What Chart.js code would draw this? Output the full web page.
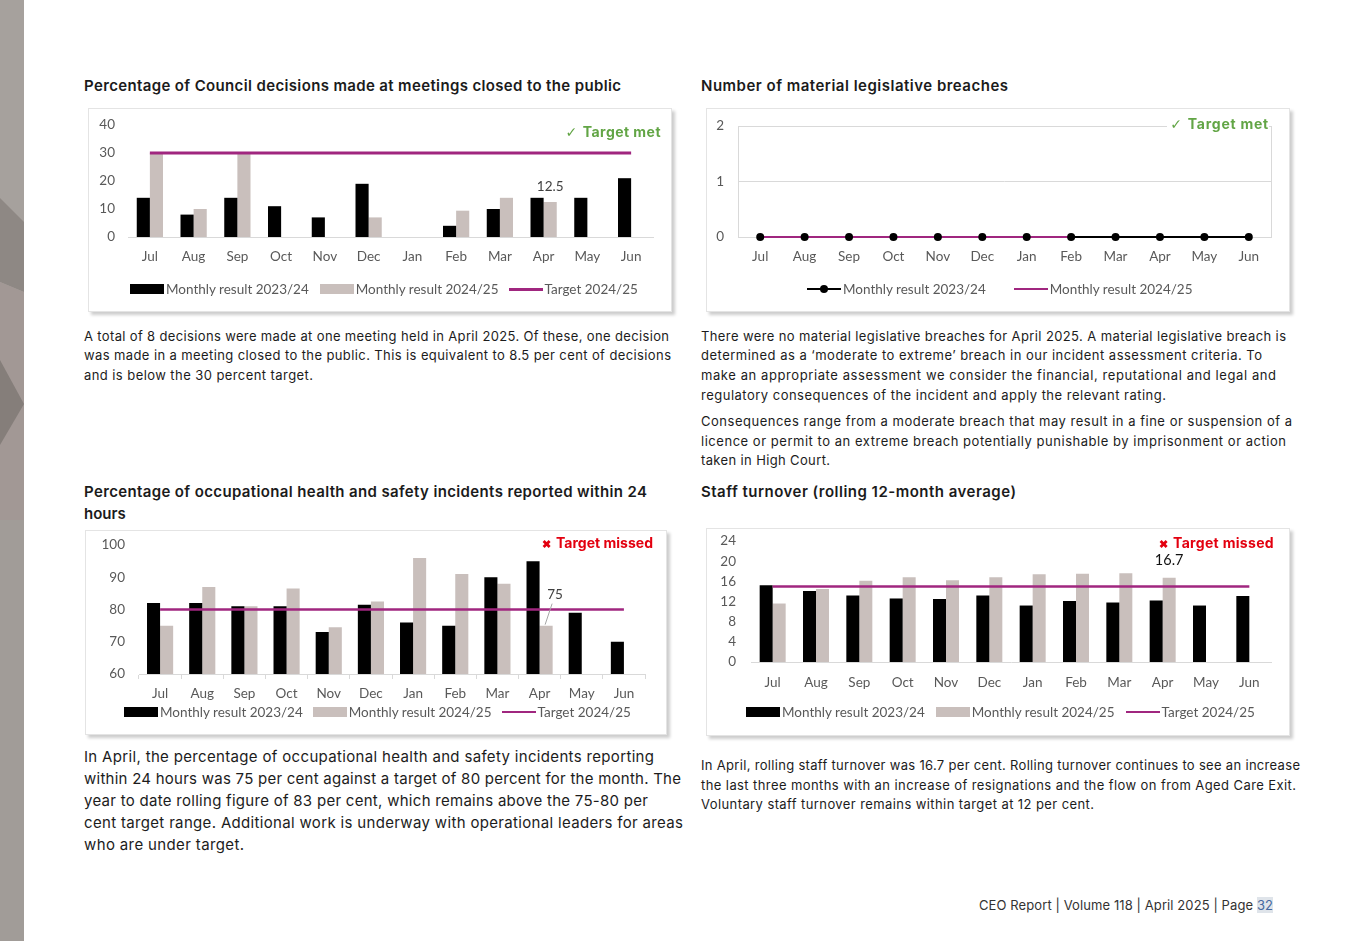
<!DOCTYPE html>
<html>
<head>
<meta charset="utf-8">
<title>CEO Report - Page 32</title>
<script src="https://cdn.jsdelivr.net/npm/chart.js@4.4.1/dist/chart.umd.min.js"></script>
<style>
  body { margin: 0; width: 1347px; height: 941px; position: relative; overflow: hidden; background: #fff; font-family: Inter, "Noto Sans", sans-serif; color: #1c1c1c; }
  .t { position: absolute; white-space: nowrap; }
  .title { font-weight: 600; font-size: 15px; line-height: 20px; color: #1b1b1b; }
  .body13 { font-size: 13px; line-height: 20px; }
  .body15 { font-size: 15px; line-height: 22px; }
  .box { position: absolute; background: #fff; border: 1px solid #e4e4e4; box-sizing: border-box; box-shadow: 3px 3px 3px rgba(0,0,0,0.2); }
  .cw { position: absolute; }
  .legend { position: absolute; display: flex; align-items: center; font-family: Lato, "Liberation Sans", sans-serif; font-size: 13.5px; color: #595959; height: 18px; white-space: nowrap; }
  .legend .item { display: flex; align-items: center; }
  .mk { display: inline-block; width: 34px; margin-right: 2px; position: relative; }
  .mk.bar { height: 10px; }
  .mk.line { height: 3px; }
  .mk.dotline { height: 2px; background: #000; }
  .mk.dotline::after { content: ""; position: absolute; left: 13px; top: -3px; width: 8px; height: 8px; border-radius: 50%; background: #000; }
  .note { position: absolute; white-space: nowrap; font-weight: 700; font-size: 14px; line-height: 16px; background: #fff; padding-left: 3px; }
  .met { color: #62a545; }
  .missed { color: #e3000f; }
  .missed .x { font-size: 11px; margin-right: 5px; }
  .met .x { margin-right: 5px; font-family: "DejaVu Sans", sans-serif; font-weight: 700; font-size: 14px; }
  .page32 { color: #4569a0; background: #dfe4ea; }
</style>
</head>
<body>

<!-- left decorative strip -->
<svg class="t" style="left:0;top:0" width="24" height="941">
  <rect x="0" y="0" width="24" height="941" fill="#a6a19d"/>
  <polygon points="0,198 24,222 24,292 0,282" fill="#8e8884"/>
  <polygon points="0,282 24,292 24,520 0,520" fill="#a29895"/>
  <polygon points="0,360 24,404 0,445" fill="#857e7a"/>
  <polygon points="0,520 24,520 24,941 0,941" fill="#a19c98"/>
</svg>

<!-- titles -->
<div class="t title" data-w="537" style="left:84px;top:76px">Percentage of Council decisions made at meetings closed to the public</div>
<div class="t title" data-w="307" style="left:701px;top:76px">Number of material legislative breaches</div>
<div class="t title" data-w="563" style="left:84px;top:482px">Percentage of occupational health and safety incidents reported within 24</div>
<div class="t title" style="left:84px;top:504px">hours</div>
<div class="t title" data-w="315" style="left:701px;top:482px">Staff turnover (rolling 12-month average)</div>

<!-- chart boxes -->
<div class="box" style="left:88px;top:108px;width:584px;height:204px"></div>
<div class="box" style="left:706px;top:108px;width:584px;height:204px"></div>
<div class="box" style="left:85px;top:530px;width:582px;height:205px"></div>
<div class="box" style="left:706px;top:528px;width:584px;height:208px"></div>

<div class="cw" style="left:88px;top:108px;width:584px;height:204px"><canvas id="decisionsChart"></canvas></div>
<div class="cw" style="left:706px;top:108px;width:584px;height:204px"><canvas id="breachesChart"></canvas></div>
<div class="cw" style="left:85px;top:530px;width:582px;height:205px"><canvas id="ohsChart"></canvas></div>
<div class="cw" style="left:706px;top:528px;width:584px;height:208px"><canvas id="turnoverChart"></canvas></div>

<!-- target notes -->
<div class="note met" data-w="98" style="right:686px;top:124px"><span class="x">✓</span>Target met</div>
<div class="note met" data-w="101" style="right:78px;top:116px"><span class="x">✓</span>Target met</div>
<div class="note missed" data-w="114" style="right:694px;top:535px"><span class="x">✖</span>Target missed</div>
<div class="note missed" data-w="118" style="right:73px;top:535px"><span class="x">✖</span>Target missed</div>

<!-- legends -->
<div class="legend" style="left:130px;top:280px">
  <span class="item"><span class="mk bar" style="background:#000"></span>Monthly result 2023/24</span>
  <span class="item" style="margin-left:11px"><span class="mk bar" style="background:#c9bfbc"></span>Monthly result 2024/25</span>
  <span class="item" style="margin-left:10px"><span class="mk line" style="background:#a0267f"></span>Target 2024/25</span>
</div>
<div class="legend" style="left:807px;top:280px">
  <span class="item"><span class="mk dotline"></span>Monthly result 2023/24</span>
  <span class="item" style="margin-left:28px"><span class="mk line" style="background:#a0267f;height:2px"></span>Monthly result 2024/25</span>
</div>
<div class="legend" style="left:124px;top:703px">
  <span class="item"><span class="mk bar" style="background:#000"></span>Monthly result 2023/24</span>
  <span class="item" style="margin-left:10px"><span class="mk bar" style="background:#c9bfbc"></span>Monthly result 2024/25</span>
  <span class="item" style="margin-left:10px"><span class="mk line" style="background:#a0267f;height:2px"></span>Target 2024/25</span>
</div>
<div class="legend" style="left:746px;top:703px">
  <span class="item"><span class="mk bar" style="background:#000"></span>Monthly result 2023/24</span>
  <span class="item" style="margin-left:11px"><span class="mk bar" style="background:#c9bfbc"></span>Monthly result 2024/25</span>
  <span class="item" style="margin-left:11px"><span class="mk line" style="background:#a0267f;height:2px"></span>Target 2024/25</span>
</div>

<!-- body text -->
<div class="t body13" data-w="585" style="left:84px;top:326px">A total of 8 decisions were made at one meeting held in April 2025. Of these, one decision</div>
<div class="t body13" data-w="587" style="left:84px;top:345px">was made in a meeting closed to the public. This is equivalent to 8.5 per cent of decisions</div>
<div class="t body13" data-w="229" style="left:84px;top:365px">and is below the 30 percent target.</div>

<div class="t body13" data-w="585" style="left:701px;top:326px">There were no material legislative breaches for April 2025. A material legislative breach is</div>
<div class="t body13" data-w="561" style="left:701px;top:345px">determined as a ‘moderate to extreme’ breach in our incident assessment criteria. To</div>
<div class="t body13" data-w="575" style="left:701px;top:365px">make an appropriate assessment we consider the financial, reputational and legal and</div>
<div class="t body13" data-w="465" style="left:701px;top:385px">regulatory consequences of the incident and apply the relevant rating.</div>
<div class="t body13" data-w="591" style="left:701px;top:411px">Consequences range from a moderate breach that may result in a fine or suspension of a</div>
<div class="t body13" data-w="585" style="left:701px;top:431px">licence or permit to an extreme breach potentially punishable by imprisonment or action</div>
<div class="t body13" data-w="129" style="left:701px;top:450px">taken in High Court.</div>

<div class="t body15" data-w="570" style="left:84px;top:746px">In April, the percentage of occupational health and safety incidents reporting</div>
<div class="t body15" data-w="597" style="left:84px;top:768px">within 24 hours was 75 per cent against a target of 80 percent for the month. The</div>
<div class="t body15" data-w="564" style="left:84px;top:790px">year to date rolling figure of 83 per cent, which remains above the 75-80 per</div>
<div class="t body15" data-w="599" style="left:84px;top:812px">cent target range. Additional work is underway with operational leaders for areas</div>
<div class="t body15" data-w="160" style="left:84px;top:834px">who are under target.</div>

<div class="t body13" data-w="599" style="left:701px;top:755px">In April, rolling staff turnover was 16.7 per cent. Rolling turnover continues to see an increase</div>
<div class="t body13" data-w="595" style="left:701px;top:775px">the last three months with an increase of resignations and the flow on from Aged Care Exit.</div>
<div class="t body13" data-w="393" style="left:701px;top:794px">Voluntary staff turnover remains within target at 12 per cent.</div>

<div class="t body13" data-w="294" style="left:979px;top:895px;color:#333">CEO Report | Volume 118 | April 2025 | Page <span class="page32">32</span></div>

<script>
// Month categories (financial year)
const months = ['Jul', 'Aug', 'Sep', 'Oct', 'Nov', 'Dec', 'Jan', 'Feb', 'Mar', 'Apr', 'May', 'Jun'];

// Council decisions made at closed meetings (%)
const decisions2324 = [14, 8, 14, 11, 7, 19, 0, 4, 10, 14, 14, 21];
const decisions2425 = [30, 10, 30, null, null, 7, null, 9.4, 14, 12.5, null, null];
const decisionsTarget = [30, 30, 30, 30, 30, 30, 30, 30, 30, 30, 30, 30];
const decisionsTicks = [0, 10, 20, 30, 40];

// Material legislative breaches
const breaches2324 = [0, 0, 0, 0, 0, 0, 0, 0, 0, 0, 0, 0];
const breaches2425 = [0, 0, 0, 0, 0, 0, 0, 0, null, null, null, null];
const breachesTicks = [0, 1, 2];

// OHS incidents reported within 24 hours (%)
const ohs2324 = [82, 82, 81, 81, 73, 81.5, 76, 75, 90, 95, 79, 70];
const ohs2425 = [75, 87, 81, 86.5, 74.5, 82.5, 96, 91, 88, 75, null, null];
const ohsTarget = [80, 80, 80, 80, 80, 80, 80, 80, 80, 80, 80, 80];
const ohsTicks = [60, 70, 80, 90, 100];

// Staff turnover, rolling 12-month average (%)
const turnover2324 = [15.2, 14.1, 13.2, 12.6, 12.5, 13.2, 11.2, 12.1, 11.8, 12.2, 11.2, 13.1];
const turnover2425 = [11.6, 14.5, 16.1, 16.8, 16.2, 16.8, 17.4, 17.5, 17.6, 16.7, null, null];
const turnoverTarget = [15, 15, 15, 15, 15, 15, 15, 15, 15, 15, 15, 15];
const turnoverTicks = [0, 4, 8, 12, 16, 20, 24];

const BLACK = '#000000';
const TAUPE = '#c9bfbc';
const MAGENTA = '#a0267f';
const AXIS_GREY = '#d9d9d9';
const TICK_TEXT = '#595959';
const TICK_FONT = { family: 'Lato, "Liberation Sans", sans-serif', size: 13.5 };

// Draws a single value label (with optional leader line) above one bar
const valueLabelPlugin = {
    id: 'valueLabel',
    afterDatasetsDraw(chart, args, opts) {
        if (!opts || opts.dataset === undefined) return;
        const el = chart.getDatasetMeta(opts.dataset).data[opts.index];
        const value = chart.data.datasets[opts.dataset].data[opts.index];
        if (!el) return;
        const ctx = chart.ctx;
        const x = el.x + (opts.dx || 0);
        const y = el.y - opts.dy;
        ctx.save();
        ctx.font = opts.font;
        ctx.fillStyle = opts.color;
        ctx.textAlign = 'center';
        ctx.textBaseline = 'middle';
        ctx.fillText(String(value), x, y);
        if (opts.leader) {
            ctx.strokeStyle = '#a6a6a6';
            ctx.lineWidth = 1;
            ctx.beginPath();
            ctx.moveTo(x - 3, y + 9);
            ctx.lineTo(el.x - 1, el.y - 1);
            ctx.stroke();
        }
        ctx.restore();
    }
};

// Light border around the plot area (breaches chart)
const plotBorderPlugin = {
    id: 'plotBorder',
    beforeDatasetsDraw(chart) {
        const a = chart.chartArea;
        const ctx = chart.ctx;
        ctx.save();
        ctx.strokeStyle = AXIS_GREY;
        ctx.lineWidth = 1;
        ctx.strokeRect(Math.round(a.left) + 0.5, Math.round(a.top) + 0.5, Math.round(a.width), Math.round(a.height));
        ctx.restore();
    }
};

function fixedTicks(list) {
    return scale => {
        scale.ticks = list.map(v => ({ value: v }));
    };
}

// y axis: fixed width, no extra label padding so layout.padding.top sets the plot top
function fixY(width) {
    return scale => {
        scale.width = width;
        scale.paddingTop = 0;
        scale.paddingBottom = 0;
    };
}

function barChart(canvasId, cfg) {
    const ctx = document.getElementById(canvasId).getContext('2d');
    return new Chart(ctx, {
        type: 'bar',
        data: {
            labels: months,
            datasets: [
                {
                    label: 'Monthly result 2023/24',
                    data: cfg.prior,
                    backgroundColor: BLACK,
                    categoryPercentage: cfg.catPct,
                    barPercentage: 1.0,
                    order: 1
                },
                {
                    label: 'Monthly result 2024/25',
                    data: cfg.current,
                    backgroundColor: TAUPE,
                    categoryPercentage: cfg.catPct,
                    barPercentage: 1.0,
                    order: 1
                },
                {
                    label: 'Target 2024/25',
                    type: 'line',
                    data: cfg.target,
                    borderColor: MAGENTA,
                    borderWidth: cfg.targetWidth,
                    pointRadius: 0,
                    fill: false,
                    clip: false,
                    order: 0
                }
            ]
        },
        options: {
            responsive: true,
            maintainAspectRatio: false,
            animation: false,
            layout: { autoPadding: false, padding: { left: 0, right: cfg.padRight, top: cfg.padTop, bottom: 0 } },
            scales: {
                x: {
                    grid: {
                        display: cfg.tickMarks,
                        drawOnChartArea: false,
                        drawTicks: cfg.tickMarks,
                        tickLength: 5,
                        color: AXIS_GREY
                    },
                    border: { display: true, color: AXIS_GREY, width: 1 },
                    ticks: { color: TICK_TEXT, font: TICK_FONT, padding: cfg.xPad, maxRotation: 0 },
                    afterFit: scale => { scale.height = cfg.xHeight; }
                },
                y: {
                    min: cfg.ticks[0],
                    max: cfg.ticks[cfg.ticks.length - 1],
                    grid: { display: false, drawTicks: false },
                    border: { display: false },
                    ticks: { color: TICK_TEXT, font: TICK_FONT, padding: cfg.yPad, autoSkip: false },
                    afterBuildTicks: fixedTicks(cfg.ticks),
                    afterFit: fixY(cfg.yWidth)
                }
            },
            plugins: {
                legend: { display: false },
                tooltip: { enabled: false },
                valueLabel: cfg.valueLabel
            }
        },
        plugins: [valueLabelPlugin]
    });
}

document.addEventListener('DOMContentLoaded', () => {
    // Stretch text lines to the measured widths of the source page
    document.querySelectorAll('[data-w]').forEach(el => {
        const target = parseFloat(el.dataset.w);
        const natural = el.getBoundingClientRect().width;
        const n = el.textContent.trim().length - 1;
        if (n > 0) el.style.letterSpacing = ((target - natural) / n) + 'px';
    });

    barChart('decisionsChart', {
        prior: decisions2324,
        current: decisions2425,
        target: decisionsTarget,
        ticks: decisionsTicks,
        catPct: 0.6,
        targetWidth: 3,
        padRight: 19,
        padTop: 17,
        yWidth: 40,
        yPad: 13,
        xHeight: 75,
        xPad: 12,
        tickMarks: false,
        valueLabel: { dataset: 1, index: 9, dy: 15, font: '13.5px Lato, sans-serif', color: '#404040' }
    });

    barChart('ohsChart', {
        prior: ohs2324,
        current: ohs2425,
        target: ohsTarget,
        ticks: ohsTicks,
        catPct: 0.62,
        targetWidth: 2.5,
        padRight: 22,
        padTop: 15,
        yWidth: 54,
        yPad: 14,
        xHeight: 61,
        xPad: 7,
        tickMarks: true,
        valueLabel: { dataset: 1, index: 9, dy: 31, dx: 9, leader: true, font: '13.5px Lato, sans-serif', color: '#404040' }
    });

    barChart('turnoverChart', {
        prior: turnover2324,
        current: turnover2425,
        target: turnoverTarget,
        ticks: turnoverTicks,
        catPct: 0.6,
        targetWidth: 2.5,
        padRight: 19,
        padTop: 13,
        yWidth: 45,
        yPad: 15,
        xHeight: 74,
        xPad: 13,
        tickMarks: false,
        valueLabel: { dataset: 1, index: 9, dy: 17, font: '14.5px Lato, sans-serif', color: '#111111' }
    });

    // Breaches line chart
    new Chart(document.getElementById('breachesChart').getContext('2d'), {
        type: 'line',
        data: {
            labels: months,
            datasets: [
                {
                    label: 'Monthly result 2023/24',
                    data: breaches2324,
                    borderColor: BLACK,
                    borderWidth: 2.2,
                    pointRadius: 0,
                    clip: false,
                    order: 2
                },
                {
                    label: 'Monthly result 2024/25',
                    data: breaches2425,
                    borderColor: MAGENTA,
                    borderWidth: 2.2,
                    pointRadius: 0,
                    clip: false,
                    order: 1
                },
                {
                    // markers of the 2023/24 series, kept above both lines
                    label: 'Monthly result 2023/24 markers',
                    data: breaches2324,
                    showLine: false,
                    pointRadius: 4,
                    pointBackgroundColor: BLACK,
                    pointBorderWidth: 0,
                    clip: false,
                    order: 0
                }
            ]
        },
        options: {
            responsive: true,
            maintainAspectRatio: false,
            animation: false,
            layout: { autoPadding: false, padding: { left: 0, right: 19, top: 18, bottom: 0 } },
            scales: {
                x: {
                    offset: true,
                    grid: { display: false, drawTicks: false },
                    border: { display: false },
                    ticks: { color: TICK_TEXT, font: TICK_FONT, padding: 12, maxRotation: 0 },
                    afterFit: scale => { scale.height = 75; }
                },
                y: {
                    min: 0,
                    max: 2,
                    grid: { color: AXIS_GREY, drawTicks: false },
                    border: { display: false },
                    ticks: { color: TICK_TEXT, font: TICK_FONT, padding: 14, autoSkip: false },
                    afterBuildTicks: fixedTicks(breachesTicks),
                    afterFit: fixY(32)
                }
            },
            plugins: {
                legend: { display: false },
                tooltip: { enabled: false }
            }
        },
        plugins: [plotBorderPlugin]
    });
});
</script>
</body>
</html>
